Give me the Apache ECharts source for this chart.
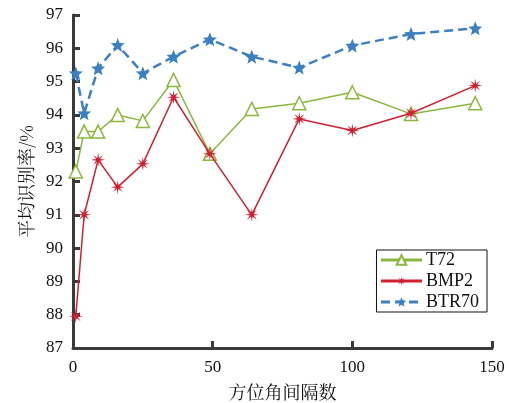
<!DOCTYPE html>
<html><head><meta charset="utf-8">
<script src="https://cdn.jsdelivr.net/npm/echarts@6/dist/echarts.min.js"></script>
<style>html,body{margin:0;padding:0;background:#fff}#c{width:512px;height:403px}</style>
</head><body><div id="c"></div>
<script>
const intervals = [1, 4, 9, 16, 25, 36, 49, 64, 81, 100, 121, 144];
const t72 = [92.3, 93.5, 93.5, 94.0, 93.82, 95.05, 92.83, 94.18, 94.35, 94.68, 94.03, 94.35];
const bmp2 = [87.95, 91.0, 92.65, 91.83, 92.53, 94.53, 92.83, 91.0, 93.88, 93.53, 94.05, 94.88];
const btr70 = [95.25, 94.05, 95.4, 96.1, 95.25, 95.75, 96.27, 95.75, 95.42, 96.08, 96.43, 96.6];
const seriesNames = ['T72', 'BMP2', 'BTR70'];

function starPath(n, ro, ri) {
  let p = '';
  for (let i = 0; i < 2 * n; i++) {
    const r = i % 2 ? ri : ro;
    const a = -Math.PI / 2 + i * Math.PI / n;
    p += (i ? 'L' : 'M') + (r * Math.cos(a)).toFixed(2) + ' ' + (r * Math.sin(a)).toFixed(2);
  }
  return 'path://' + p + 'Z';
}
const STAR = starPath(5, 10, 4.4);
const ASTER = starPath(8, 10, 3.0);
const pair = arr => intervals.map((x, i) => [x, arr[i]]);
const serif = '"Liberation Serif","Times New Roman",serif';
const cjk = '"Noto Serif CJK SC","Noto Sans CJK SC",serif';
const chart = echarts.init(document.getElementById('c'), null, {renderer: 'canvas'});
chart.setOption({
  animation: false,
  grid: {left: 73, right: 20, top: 15, bottom: 55, containLabel: false, outerBoundsMode: 'none'},
  legend: {
    orient: 'vertical', right: 25, top: 250,
    width: 112,
    backgroundColor: '#fff', borderColor: '#111', borderWidth: 1,
    padding: [1, 8, 1, 3], itemGap: 3, itemWidth: 41, itemHeight: 12,
    lineStyle: {width: 3},
    textStyle: {fontFamily: serif, fontSize: 18, color: '#111', padding: [0, 0, 0, -1]},
    data: seriesNames
  },
  xAxis: {
    type: 'value', min: 0, max: 150, interval: 50,
    name: '方位角间隔数', nameLocation: 'middle', nameGap: 35,
    nameTextStyle: {fontFamily: cjk, fontSize: 18, color: '#111'},
    axisLine: {show: true, onZero: false, lineStyle: {color: '#3a3a3a', width: 3}},
    axisTick: {show: true, inside: true, length: 7, lineStyle: {color: '#3a3a3a', width: 3}},
    axisLabel: {fontFamily: serif, fontSize: 17, color: '#111', margin: 11},
    splitLine: {show: false}
  },
  yAxis: {
    type: 'value', min: 87, max: 97, interval: 1,
    name: '平均识别率/%', nameLocation: 'middle', nameGap: 38, nameRotate: 90,
    nameTextStyle: {fontFamily: cjk, fontSize: 18, color: '#111'},
    axisLine: {show: true, onZero: false, lineStyle: {color: '#3a3a3a', width: 3}},
    axisTick: {show: true, inside: true, length: 7, lineStyle: {color: '#3a3a3a', width: 3}},
    axisLabel: {fontFamily: serif, fontSize: 17, color: '#111', margin: 10},
    splitLine: {show: false}
  },
  series: [
    {
      name: 'T72', type: 'line', data: pair(t72),
      symbol: 'triangle', symbolSize: 13,
      lineStyle: {color: '#8ab83e', width: 1.5},
      itemStyle: {color: '#fff', borderColor: '#8ab83e', borderWidth: 1.5},
      z: 3
    },
    {
      name: 'BMP2', type: 'line', data: pair(bmp2),
      symbol: ASTER, symbolSize: 14,
      lineStyle: {color: '#d02030', width: 1.5},
      itemStyle: {color: '#d02030'},
      z: 4
    },
    {
      name: 'BTR70', type: 'line', data: pair(btr70),
      symbol: STAR, symbolSize: 14,
      lineStyle: {color: '#3d80c2', width: 2.5, type: [9, 5]},
      itemStyle: {color: '#3d80c2'},
      z: 5
    }
  ]
});
</script></body></html>
